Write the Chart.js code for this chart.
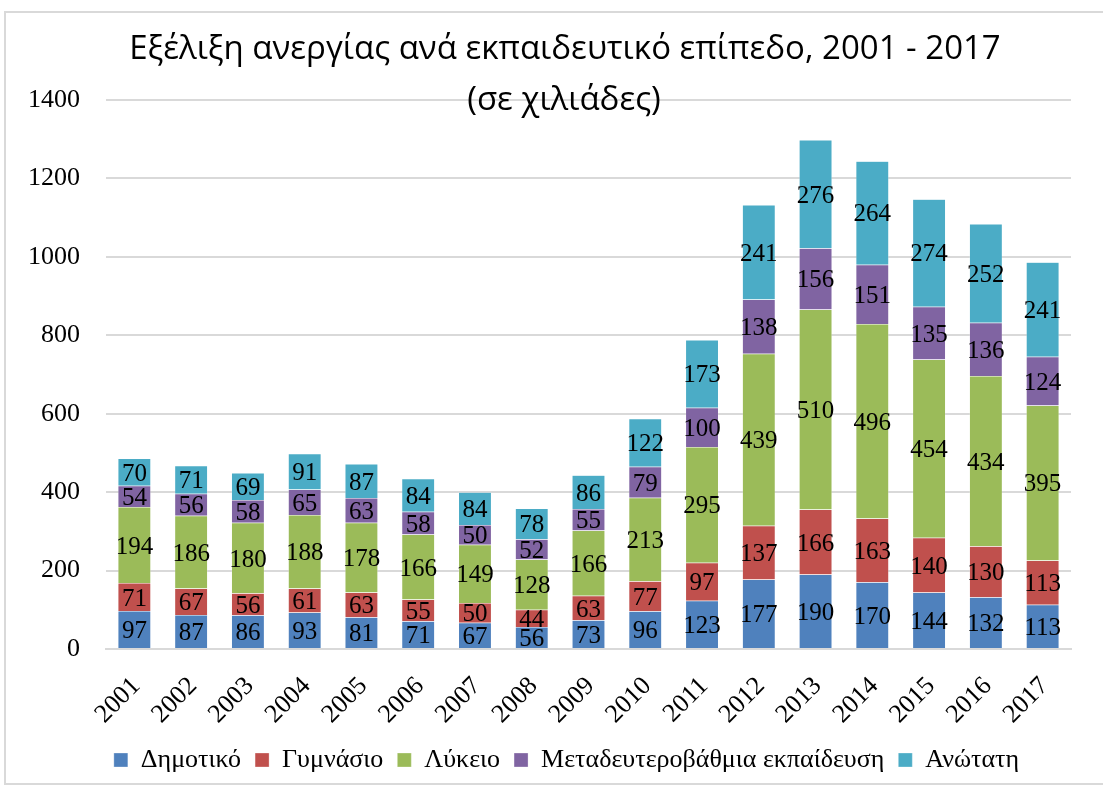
<!DOCTYPE html>
<html>
<head>
<meta charset="utf-8">
<script src="https://cdn.jsdelivr.net/npm/chart.js@4"></script>
<style>
  body { margin: 0; background: #fff; }
  #frame {
    position: absolute; left: 4px; top: 11px;
    width: 1099px; height: 774px;
    border: 2px solid #d9d9d9; box-sizing: border-box;
    border-right: none;
  }
</style>
</head>
<body>
<div id="frame"><canvas id="chart"></canvas></div>
<script>
// values in thousands
const years = ['2001', '2002', '2003', '2004', '2005', '2006', '2007', '2008', '2009',
    '2010', '2011', '2012', '2013', '2014', '2015', '2016', '2017'];
const dimotiko = [97, 87, 86, 93, 81, 71, 67, 56, 73, 96, 123, 177, 190, 170, 144, 132, 113];
const gymnasio = [71, 67, 56, 61, 63, 55, 50, 44, 63, 77, 97, 137, 166, 163, 140, 130, 113];
const lykeio = [194, 186, 180, 188, 178, 166, 149, 128, 166, 213, 295, 439, 510, 496, 454, 434, 395];
const metadeft = [54, 56, 58, 65, 63, 58, 50, 52, 55, 79, 100, 138, 156, 151, 135, 136, 124];
const anotati = [70, 71, 69, 91, 87, 84, 84, 78, 86, 122, 173, 241, 276, 264, 274, 252, 241];
const yTicks = [0, 200, 400, 600, 800, 1000, 1200, 1400];

const titleLines = ['Εξέλιξη ανεργίας ανά εκπαιδευτικό επίπεδο, 2001 - 2017', '(σε χιλιάδες)'];
const serif = '"Liberation Serif", "Times New Roman", serif';

// title is drawn by hand because it sits over the top gridline
const titlePlugin = {
    id: 'overlapTitle',
    afterDraw(chart) {
        const ctx = chart.ctx;
        ctx.save();
        ctx.fillStyle = '#000';
        ctx.textAlign = 'center';
        ctx.textBaseline = 'alphabetic';
        ctx.font = '33px "Open Sans", "Noto Sans", sans-serif';
        ctx.fillText(titleLines[0], 559, 46);
        ctx.fillText(titleLines[1], 558, 97);
        ctx.restore();
    }
};

const valueLabels = {
    id: 'valueLabels',
    afterDatasetsDraw(chart) {
        const ctx = chart.ctx;
        ctx.save();
        ctx.fillStyle = '#000';
        ctx.textAlign = 'center';
        ctx.textBaseline = 'middle';
        ctx.font = '25px ' + serif;
        chart.data.datasets.forEach((ds, i) => {
            const meta = chart.getDatasetMeta(i);
            meta.data.forEach((bar, j) => {
                const y = (bar.y + bar.base) / 2;
                ctx.fillText(String(ds.data[j]), bar.x, y + 2);
            });
        });
        ctx.restore();
    }
};

// the legend in the original sits a bit right of the canvas centre
const legendShift = {
    id: 'legendShift',
    afterLayout(chart) {
        if (chart.legend) {
            chart.legend.left += 17;
            chart.legend.right += 17;
        }
    }
};

function series(label, data, color) {
    return {
        label: label,
        data: data,
        backgroundColor: color,
        borderColor: 'rgba(255,255,255,0.6)',
        borderWidth: 0.5,
        categoryPercentage: 1,
        barPercentage: 0.58
    };
}

new Chart(document.getElementById('chart'), {
    type: 'bar',
    data: {
        labels: years,
        datasets: [
            series('Δημοτικό', dimotiko, '#4f81bd'),
            series('Γυμνάσιο', gymnasio, '#c0504d'),
            series('Λύκειο', lykeio, '#9bbb59'),
            series('Μεταδευτεροβάθμια εκπαίδευση', metadeft, '#8064a2'),
            series('Ανώτατη', anotati, '#4bacc6')
        ]
    },
    options: {
        responsive: true,
        maintainAspectRatio: false,
        animation: false,
        layout: { padding: { top: 87, left: 22, right: 32, bottom: 0 } },
        scales: {
            x: {
                stacked: true,
                grid: { display: false, drawTicks: false },
                border: { color: '#d9d9d9', width: 2 },
                ticks: {
                    color: '#000',
                    font: { family: serif, size: 26 },
                    maxRotation: 45, minRotation: 45,
                    labelOffset: 2,
                    padding: 22
                },
                // fixed height, and no extra inset for the rotated labels
                afterFit(scale) { scale.height = 84; scale.paddingLeft = 0; scale.paddingRight = 0; }
            },
            y: {
                stacked: true,
                min: 0, max: 1400,
                afterBuildTicks(axis) { axis.ticks = yTicks.map(v => ({ value: v })); },
                grid: { color: '#d9d9d9', lineWidth: 2, drawTicks: false },
                border: { display: false },
                ticks: {
                    color: '#000',
                    font: { family: serif, size: 26 },
                    padding: 26,
                    callback: v => String(v)
                },
                afterFit(axis) { axis.width = 78; }
            }
        },
        plugins: {
            title: { display: false },
            tooltip: { enabled: false },
            legend: {
                position: 'bottom',
                labels: {
                    color: '#000',
                    font: { family: serif, size: 26 },
                    boxWidth: 14, boxHeight: 14,
                    padding: 14
                }
            }
        }
    },
    plugins: [titlePlugin, valueLabels, legendShift]
});
</script>
</body>
</html>
